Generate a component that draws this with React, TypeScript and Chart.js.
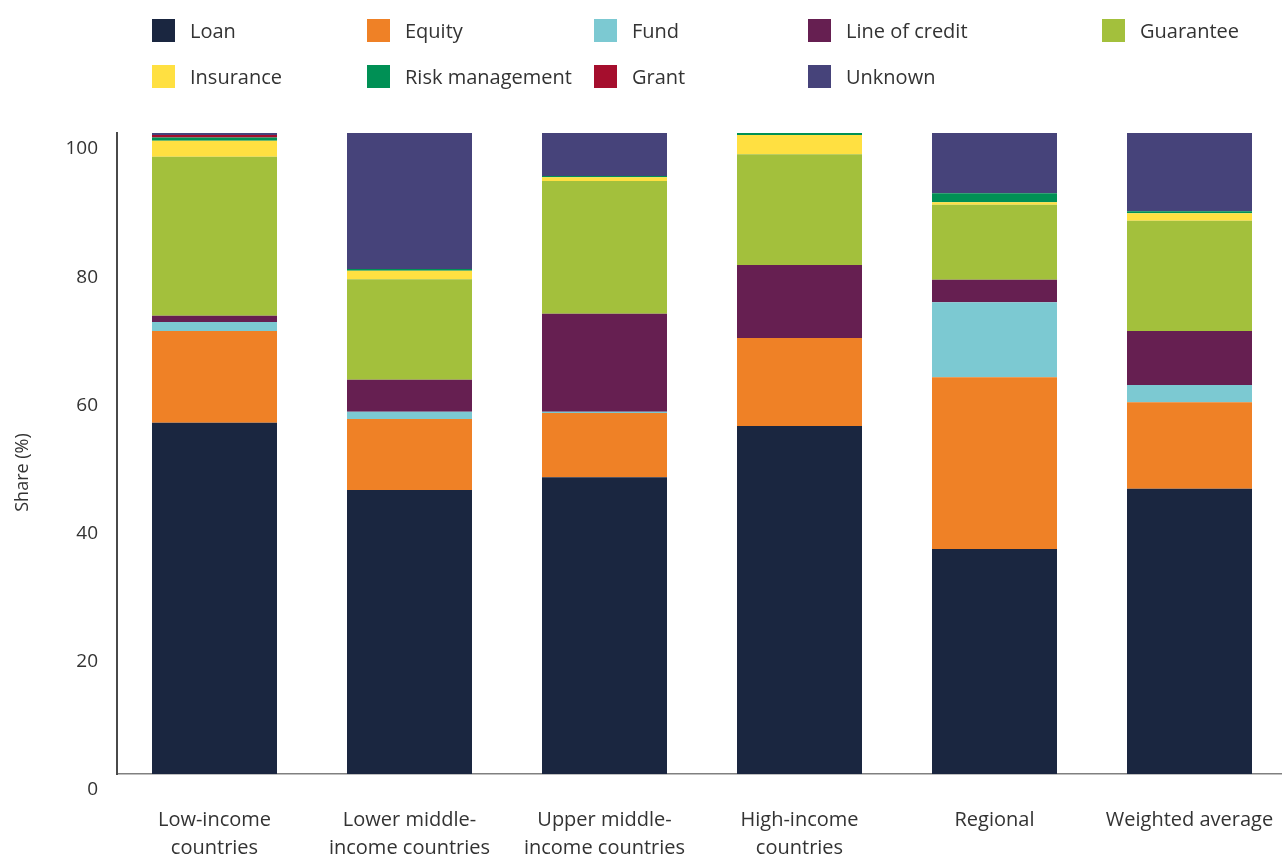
import React, { useEffect, useRef } from "react";
import { Chart, registerables } from "chart.js";

Chart.register(...registerables);

const categories: (string | string[])[] = [
  ["Low-income", "countries"],
  ["Lower middle-", "income countries"],
  ["Upper middle-", "income countries"],
  ["High-income", "countries"],
  "Regional",
  "Weighted average",
];

const seriesNames = [
  "Loan",
  "Equity",
  "Fund",
  "Line of credit",
  "Guarantee",
  "Insurance",
  "Risk management",
  "Grant",
  "Unknown",
];

const seriesColors = [
  "#1A2640",
  "#EF8126",
  "#7CC9D2",
  "#661F51",
  "#A3C03C",
  "#FFE041",
  "#009055",
  "#A50E2D",
  "#46437A",
];

const loan = [54.8, 44.3, 46.3, 54.3, 35.1, 44.5];
const equity = [14.3, 11.1, 10.0, 13.7, 26.8, 13.5];
const fund = [1.4, 1.1, 0.2, 0, 11.7, 2.7];
const lineOfCredit = [1.0, 5.0, 15.3, 11.4, 3.5, 8.4];
const guarantee = [24.8, 15.7, 20.7, 17.3, 11.7, 17.2];
const insurance = [2.5, 1.3, 0.6, 3.0, 0.4, 1.2];
const riskManagement = [0.5, 0.3, 0.2, 0.3, 1.4, 0.3];
const grant = [0.4, 0, 0, 0, 0, 0];
const unknown = [0.3, 21.2, 6.7, 0, 9.4, 12.2];

const yTicks = [0, 20, 40, 60, 80, 100];
const yAxisTitle = "Share (%)";

const seriesValues = [
  loan,
  equity,
  fund,
  lineOfCredit,
  guarantee,
  insurance,
  riskManagement,
  grant,
  unknown,
];

// legend layout (two rows, fixed columns)
const legendRows = [
  [0, 1, 2, 3, 4],
  [5, 6, 7, 8],
];
const legendColumnX = [152, 367, 594, 808, 1102];
const legendRowY = [19, 65];

const FONT = "'Open Sans', 'Noto Sans', sans-serif";
const TEXT_COLOR = "#333333";

const yTitlePlugin = {
  id: "yTitlePlugin",
  afterDraw(chart: any) {
    const ctx = chart.ctx;
    const area = chart.chartArea;
    ctx.save();
    ctx.translate(23, (area.top + area.bottom) / 2 + 19);
    ctx.rotate(-Math.PI / 2);
    ctx.font = `400 18px ${FONT}`;
    ctx.fillStyle = TEXT_COLOR;
    ctx.textAlign = "center";
    ctx.textBaseline = "middle";
    ctx.fillText(yAxisTitle, 0, 0);
    ctx.restore();
  },
};

export default function App() {
  const canvasRef = useRef<HTMLCanvasElement | null>(null);

  useEffect(() => {
    const canvas = canvasRef.current;
    if (!canvas) return;
    const chart = new Chart(canvas, {
      type: "bar",
      data: {
        labels: categories as any,
        datasets: seriesNames.map((name, i) => ({
          label: name,
          data: seriesValues[i],
          backgroundColor: seriesColors[i],
          borderWidth: 0,
          barPercentage: 0.641,
          categoryPercentage: 1,
        })),
      },
      options: {
        animation: false,
        responsive: false,
        maintainAspectRatio: false,
        layout: { padding: { top: 133, right: 0, bottom: 0, left: 0 } },
        plugins: {
          legend: { display: false },
          tooltip: { enabled: false },
        },
        scales: {
          x: {
            stacked: true,
            grid: { display: false, drawTicks: true, tickLength: 32 },
            border: { display: true, color: "#808080", width: 1.5 },
            ticks: {
              font: { family: FONT, size: 20, weight: 400 as any, lineHeight: 1.4 },
              color: TEXT_COLOR,
              padding: 0,
              maxRotation: 0,
              minRotation: 0,
              autoSkip: false,
            },
            afterFit: (s: any) => {
              s.height = 84;
            },
          },
          y: {
            stacked: true,
            min: 0,
            max: 100,
            afterBuildTicks: (s: any) => {
              s.ticks = yTicks.map((v) => ({ value: v }));
            },
            ticks: {
              labelOffset: 16,
              padding: 19,
              font: { family: FONT, size: 19, weight: 400 as any },
              color: TEXT_COLOR,
            },
            grid: { display: false, drawTicks: false },
            border: { display: true, color: "#4a4a4a", width: 2 },
            afterFit: (s: any) => {
              s.width = 117;
            },
          },
        },
      },
      plugins: [yTitlePlugin],
    });
    return () => chart.destroy();
  }, []);

  return (
    <div style={{ position: "absolute", left: 0, top: 0, width: 1282, height: 858, background: "#fff", overflow: "hidden" }}>
      <canvas
        ref={canvasRef}
        width={1287}
        height={858}
        style={{ position: "absolute", left: 0, top: 0, width: 1287, height: 858 }}
      />
      {legendRows.map((row, r) =>
        row.map((idx, c) => (
          <div
            key={seriesNames[idx]}
            style={{
              position: "absolute",
              left: legendColumnX[c],
              top: legendRowY[r],
              height: 23,
              display: "flex",
              alignItems: "center",
              whiteSpace: "nowrap",
              fontFamily: FONT,
              fontWeight: 400,
              fontSize: 20,
              color: TEXT_COLOR,
            }}
          >
            <span
              style={{
                display: "inline-block",
                width: 23,
                height: 23,
                background: seriesColors[idx],
                marginRight: 15,
              }}
            />
            <span>{seriesNames[idx]}</span>
          </div>
        ))
      )}
    </div>
  );
}
